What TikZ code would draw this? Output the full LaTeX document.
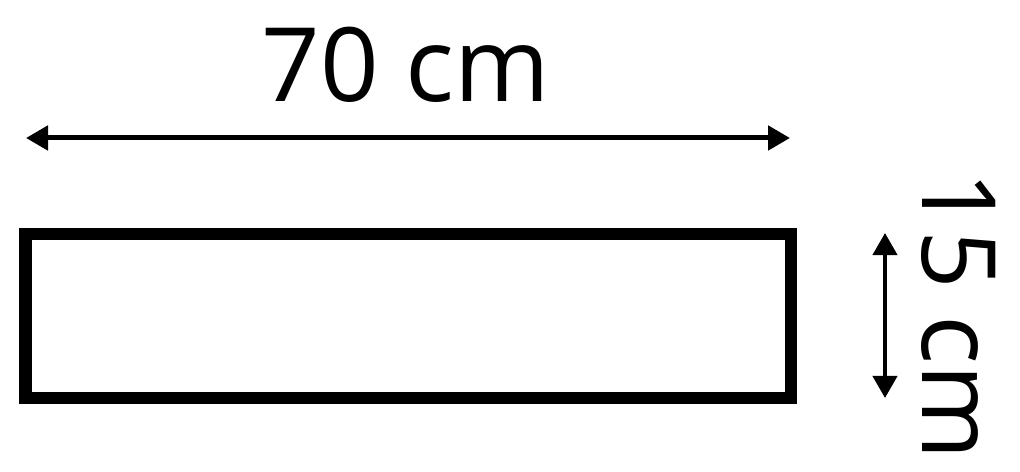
\documentclass[tikz,border=0pt]{standalone}
\usepackage{fontspec}
\setmainfont{Open Sans}
\usetikzlibrary{arrows.meta}

\begin{document}
\begin{tikzpicture}[x=0.025cm,y=-0.025cm,
		dimarrow/.style={{Triangle[length=0.55cm,width=0.6cm]}-{Triangle[length=0.55cm,width=0.6cm]}},
		dimlabel/.style={inner sep=0pt,font=\fontsize{73}{78}\selectfont}]
				\useasboundingbox (0,0) rectangle (1020,472);
				\draw[line width=0.3cm, miter limit=10] (25.5,234) rectangle (790.5,398);
				
				\coordinate (wl) at (26,138);
				\coordinate (wr) at (790,138);
				\coordinate (ht) at (885,233);
				\coordinate (hb) at (885,398);
				\draw[dimarrow, line width=0.125cm] (wl) -- (wr);
				\draw[dimarrow, line width=0.1cm] (ht) -- (hb);
				
				\node[dimlabel, anchor=base] (width) at (406,102) {70 cm};
				\node[dimlabel, anchor=base, rotate=-90] (height) at (922,316) {15 cm};
			\end{tikzpicture}
\end{document}
